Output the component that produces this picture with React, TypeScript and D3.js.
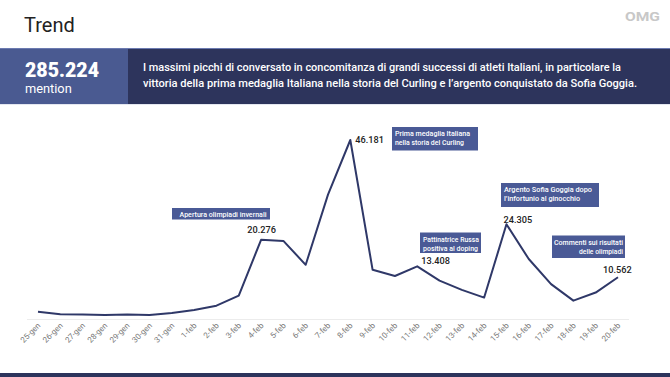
import React from "react";
import * as d3 from "d3";

const dates = ["25-gen","26-gen","27-gen","28-gen","29-gen","30-gen","31-gen","1-feb","2-feb","3-feb","4-feb","5-feb","6-feb","7-feb","8-feb","9-feb","10-feb","11-feb","12-feb","13-feb","14-feb","15-feb","16-feb","17-feb","18-feb","19-feb","20-feb"];
const mentions = [1600,1000,900,800,900,800,1300,2100,3200,5800,20276,20000,13800,32000,46181,12500,10900,13408,9700,7300,5300,24305,15300,8800,4500,6600,10562];

const valueLabels = [
  { i: 10, text: "20.276", dx: 0.5, dy: -7, anchor: "middle" },
  { i: 14, text: "46.181", dx: 5, dy: 3, anchor: "start" },
  { i: 17, text: "13.408", dx: 4, dy: -2, anchor: "start" },
  { i: 21, text: "24.305", dx: -3, dy: -1.5, anchor: "start" },
  { i: 26, text: "10.562", dx: -15, dy: -4, anchor: "start" },
];

const annotations = [
  { lines: ["Apertura olimpiadi invernali"], widths: [87], x: 172, y: 208, w: 98, h: 11.5, align: "center" },
  { lines: ["Prima medaglia Italiana", "nella storia del Curling"], widths: [75, 69], x: 392, y: 127, w: 86, h: 23.5, align: "left" },
  { lines: ["Pattinatrice Russa", "positiva al doping"], widths: [56, 55], x: 420, y: 232.5, w: 61, h: 20.5, align: "left" },
  { lines: ["Argento Sofia Goggia dopo", "l\u2019infortunio al ginocchio"], widths: [88, 76], x: 501, y: 183, w: 98, h: 24, align: "left" },
  { lines: ["Commenti sui risultati", "delle olimpiadi"], widths: [69, 44], x: 552, y: 235.5, w: 73, h: 22.5, align: "right" },
];

const FONT = "Roboto, 'Noto Sans', sans-serif";

export default function App() {
  const W = 670, H = 377;
  const x = d3.scalePoint<string>().domain(dates).range([38, 618]);
  const y = d3.scaleLinear().domain([0, 46181]).range([318, 140]);
  const line = d3.line<number>().x((_, i) => x(dates[i])!).y(d => y(d));

  return (
    <svg width={W} height={H} style={{ position: "absolute", left: 0, top: 0, background: "#fff" }} fontFamily={FONT}>
      <rect width={W} height={H} fill="#fff" />
      <text x={24} y={32} fontSize={20} fill="#222">Trend</text>
      <text x={625} y={20.5} fontSize={12} fontWeight={700} fill="#c8c8c8" textLength={35} lengthAdjust="spacingAndGlyphs">OMG</text>

      <rect x={0} y={48} width={W} height={56} fill="#2d345c" />
      <rect x={0} y={48} width={128} height={56} fill="#4a5a91" />
      <rect x={0} y={48} width={W} height={1} fill="#6b7ab0" />
      <rect x={0} y={104} width={W} height={1} fill="#e4e7f0" />
      <text x={25} y={77} fontSize={19.5} fontWeight={900} fill="#fff" textLength={74} lengthAdjust="spacingAndGlyphs">285.224</text>
      <text x={25} y={92.5} fontSize={12.8} fill="#fff">mention</text>
      <text x={143} y={71} fontSize={11.5} fontWeight={500} fill="#fff" textLength={478} lengthAdjust="spacingAndGlyphs">I massimi picchi di conversato in concomitanza di grandi successi di atleti Italiani, in particolare la</text>
      <text x={143} y={86.5} fontSize={11.5} fontWeight={500} fill="#fff" textLength={494} lengthAdjust="spacingAndGlyphs">vittoria della prima medaglia Italiana nella storia del Curling e l’argento conquistato da Sofia Goggia.</text>

      <line x1={27} x2={629} y1={319.5} y2={319.5} stroke="#ececec" strokeWidth={1} />
      {dates.map(d => (
        <text key={d} transform={`translate(${x(d)! + 3},${326}) rotate(-45)`} textAnchor="end" fontSize={8} fill="#777">{d}</text>
      ))}

      <path d={line(mentions) || ""} fill="none" stroke="#2f3868" strokeWidth={2} strokeLinejoin="round" />

      {valueLabels.map(v => (
        <text key={v.i} x={x(dates[v.i])! + v.dx} y={y(mentions[v.i]) + v.dy} textAnchor={v.anchor as any} fontSize={9.2} fontWeight={500} fill="#222">{v.text}</text>
      ))}

      {annotations.map((a, k) => (
        <g key={k}>
          <rect x={a.x} y={a.y} width={a.w} height={a.h} fill="#4a5a96" />
          {a.lines.map((l, j) => {
            const tx = a.align === "center" ? a.x + a.w / 2 + 2 : a.align === "right" ? a.x + a.w - 2 : a.x + 3;
            const anchor = a.align === "center" ? "middle" : a.align === "right" ? "end" : "start";
            const ty = a.lines.length === 1 ? a.y + a.h / 2 + 3 : a.y + 9 + j * 9.3;
            return <text key={j} x={tx} y={ty} fontSize={7.8} fontWeight={500} fill="#fff" textAnchor={anchor} textLength={a.widths[j]} lengthAdjust="spacingAndGlyphs">{l}</text>;
          })}
        </g>
      ))}

      <rect x={0} y={373} width={W} height={4} fill="#2d345c" />
    </svg>
  );
}
